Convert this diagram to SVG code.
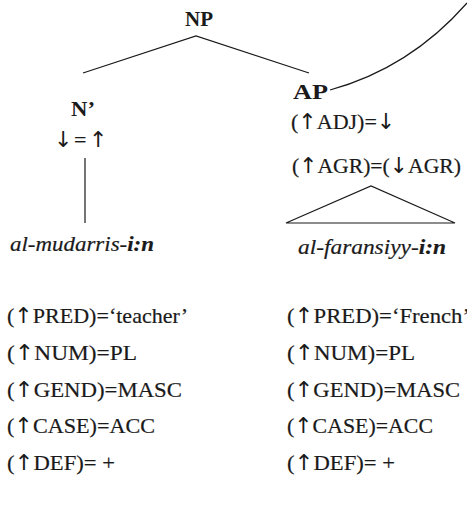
<svg xmlns="http://www.w3.org/2000/svg" width="467" height="508" viewBox="0 0 467 508">
  <style>
    text { font-family: "Liberation Serif", "Times New Roman", serif; font-size: 22px; fill: #1a1a1a; stroke: #1a1a1a; stroke-width: 0.2; }
    .cat { font-weight: bold; stroke-width: 0; }
    .word { font-style: italic; }
    .word .suffix { font-weight: bold; }
    .ar { font-family: "DejaVu Sans", "DejaVu Serif", sans-serif; font-size: 22px; stroke-width: 0; }
    .edge { stroke: #1a1a1a; stroke-width: 1.2; fill: none; }
  </style>
  <rect width="467" height="508" fill="#ffffff"/>

  <!-- tree branches -->
  <g id="connectors">
    <path class="edge" d="M83 73 L196 36 L309 73"/>
    <path class="edge" d="M85 158 L85 223"/>
    <path class="edge" d="M286 223 L371 186 L455 223 Z"/>
    <path class="edge" d="M330 90 Q410 68 467 3"/>
  </g>

  <g id="np">
    <text class="cat" x="185" y="26" textLength="28" lengthAdjust="spacingAndGlyphs">NP</text>
  </g>

  <g id="nbar">
    <text class="cat" x="71" y="116" textLength="24" lengthAdjust="spacingAndGlyphs">N’</text>
    <text class="ar" x="54" y="147">↓</text>
    <text x="74" y="147">=</text>
    <text class="ar" x="89" y="147">↑</text>
  </g>

  <g id="ap">
    <text class="cat" x="293" y="99" textLength="35" lengthAdjust="spacingAndGlyphs">AP</text>
    <text x="291" y="129">(<tspan class="ar">↑</tspan>ADJ)=<tspan class="ar">↓</tspan></text>
    <text x="292" y="173" textLength="169" lengthAdjust="spacingAndGlyphs">(<tspan class="ar">↑</tspan>AGR)=(<tspan class="ar">↓</tspan>AGR)</text>
  </g>

  <g id="noun-word">
    <text class="word" x="10" y="251" textLength="144" lengthAdjust="spacingAndGlyphs">al-mudarris-<tspan class="suffix">i:n</tspan></text>
  </g>

  <g id="adj-word">
    <text class="word" x="298" y="254" textLength="148" lengthAdjust="spacingAndGlyphs">al-faransiyy-<tspan class="suffix">i:n</tspan></text>
  </g>

  <!-- lexical equations under the noun -->
  <g id="noun-features">
    <text x="7" y="323" textLength="181" lengthAdjust="spacingAndGlyphs">(<tspan class="ar">↑</tspan>PRED)=‘teacher’</text>
    <text x="7" y="360" textLength="130" lengthAdjust="spacingAndGlyphs">(<tspan class="ar">↑</tspan>NUM)=PL</text>
    <text x="7" y="397" textLength="175" lengthAdjust="spacingAndGlyphs">(<tspan class="ar">↑</tspan>GEND)=MASC</text>
    <text x="7" y="433" textLength="148" lengthAdjust="spacingAndGlyphs">(<tspan class="ar">↑</tspan>CASE)=ACC</text>
    <text x="7" y="470" textLength="108" lengthAdjust="spacingAndGlyphs">(<tspan class="ar">↑</tspan>DEF)= +</text>
  </g>

  <!-- lexical equations under the adjective -->
  <g id="adj-features">
    <text x="287" y="323" textLength="183" lengthAdjust="spacingAndGlyphs">(<tspan class="ar">↑</tspan>PRED)=‘French’</text>
    <text x="287" y="360" textLength="128" lengthAdjust="spacingAndGlyphs">(<tspan class="ar">↑</tspan>NUM)=PL</text>
    <text x="287" y="397" textLength="173" lengthAdjust="spacingAndGlyphs">(<tspan class="ar">↑</tspan>GEND)=MASC</text>
    <text x="287" y="433" textLength="146" lengthAdjust="spacingAndGlyphs">(<tspan class="ar">↑</tspan>CASE)=ACC</text>
    <text x="287" y="470" textLength="108" lengthAdjust="spacingAndGlyphs">(<tspan class="ar">↑</tspan>DEF)= +</text>
  </g>
</svg>
